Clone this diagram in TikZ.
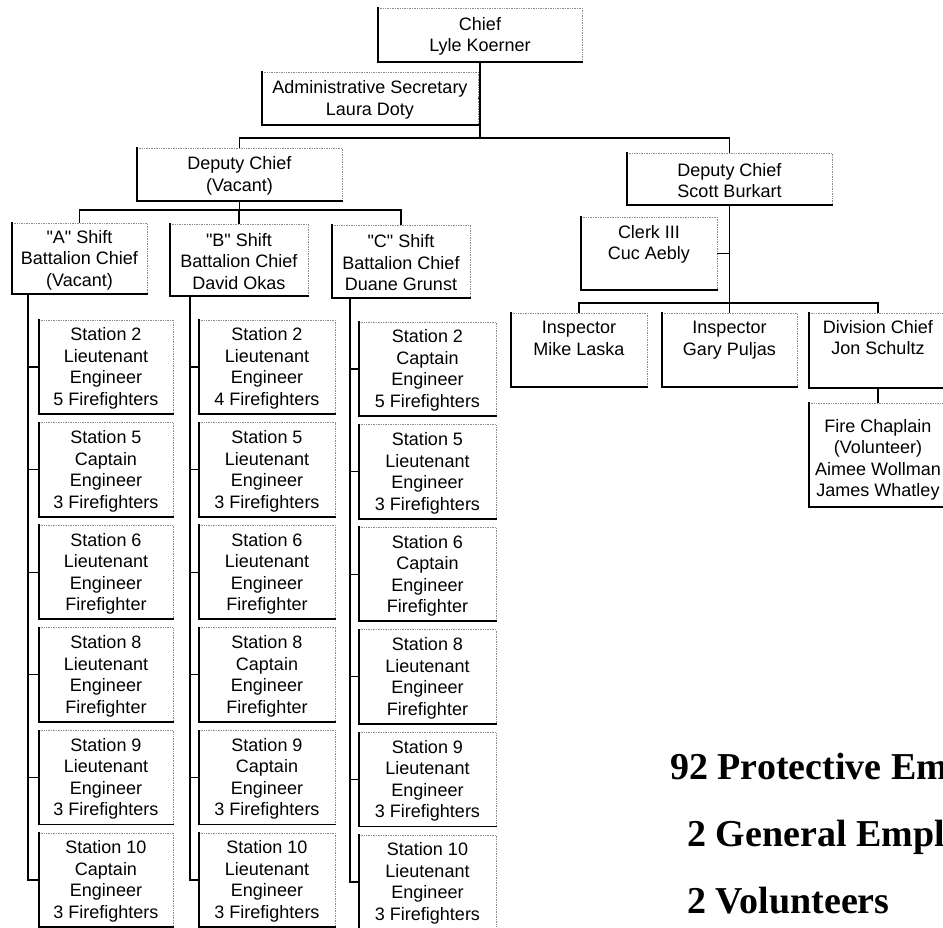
\documentclass[tikz,border=0pt]{standalone}
\usepackage{fontspec}
\setmainfont{Liberation Sans}[Ligatures=TeXOff]
\newfontfamily\bigserif{Liberation Serif}
\usetikzlibrary{fit}
\tikzset{
  boxshape/.style={inner sep=0pt, outer sep=0pt},
  txt/.style={inner sep=0pt, align=center, font=\fontsize{18}{21.5}\selectfont},
  hardedge/.style={line width=1.8pt, black, line cap=rect},
  softedge/.style={line width=0.7pt, black!45, densely dotted},
  conn/.style={line width=1.3pt, black},
  bigtxt/.style={inner sep=0pt, anchor=base west, font=\bigserif\bfseries\fontsize{38}{44}\selectfont}
}
% name, x1, y1, x2, y2, text (centred)
\newcommand\orgbox[6]{%
  \node[boxshape, fit={(#2,#3) (#4,#5)}] (#1) {};
  \node[txt, yshift=-1.5pt] (#1-t) at (#1.center) {#6};
  \draw[softedge] (#1.north west) -- (#1.north east) -- (#1.south east);
  \draw[hardedge] (#1.north west) -- (#1.south west) -- (#1.south east);
}
% name, x1, y1, x2, y2, y of text top, text (top aligned)
\newcommand\topbox[7]{%
  \node[boxshape, fit={(#2,#3) (#4,#5)}] (#1) {};
  \node[txt, anchor=north] (#1-t) at ({(#2+#4)/2},#6) {#7};
  \draw[softedge] (#1.north west) -- (#1.north east) -- (#1.south east);
  \draw[hardedge] (#1.north west) -- (#1.south west) -- (#1.south east);
}
\begin{document}
\begin{tikzpicture}[x=1pt, y=-1pt]
\useasboundingbox (0,0) rectangle (943,928);
\fill[white] (0,0) rectangle (943,928);
\clip (0,0) rectangle (943,928);

% top levels
\orgbox{chief}{378}{8}{582}{62}{Chief\\Lyle Koerner}
\orgbox{admin}{262}{72}{478}{125}{Administrative Secretary\\Laura Doty}
\orgbox{dcv}{137}{148}{342}{201}{Deputy Chief\\(Vacant)}
\orgbox{dcs}{627}{153}{832}{205}{Deputy Chief\\Scott Burkart}

% shifts
\orgbox{sa}{12}{223}{147}{294}{"A" Shift\\Battalion Chief\\(Vacant)}
\orgbox{sb}{170}{224}{308}{296}{"B" Shift\\Battalion Chief\\David Okas}
\orgbox{sc}{332}{225}{470}{298}{"C" Shift\\Battalion Chief\\Duane Grunst}

% right branch
\topbox{clerk}{581}{217}{717}{290}{225}{Clerk III\\Cuc Aebly}
\topbox{mike}{511}{313}{647}{387}{321}{Inspector\\Mike Laska}
\topbox{gary}{662}{313}{797}{387}{321}{Inspector\\Gary Puljas}
\topbox{div}{809}{313}{947}{388}{320}{Division Chief\\Jon Schultz}
\topbox{fc}{809}{403}{947}{507}{419}{Fire Chaplain\\(Volunteer)\\Aimee Wollman\\James Whatley}

% column A
\orgbox{a2}{39}{320}{173}{320+94}{Station 2\\Lieutenant\\Engineer\\5 Firefighters}
\orgbox{a5}{39}{422.6}{173}{422.6+94}{Station 5\\Captain\\Engineer\\3 Firefighters}
\orgbox{a6}{39}{525.2}{173}{525.2+94}{Station 6\\Lieutenant\\Engineer\\Firefighter}
\orgbox{a8}{39}{627.8}{173}{627.8+94}{Station 8\\Lieutenant\\Engineer\\Firefighter}
\orgbox{a9}{39}{730.4}{173}{730.4+94}{Station 9\\Lieutenant\\Engineer\\3 Firefighters}
\orgbox{a10}{39}{833}{173}{833+94}{Station 10\\Captain\\Engineer\\3 Firefighters}

% column B
\orgbox{b2}{199}{320}{335}{320+94}{Station 2\\Lieutenant\\Engineer\\4 Firefighters}
\orgbox{b5}{199}{422.6}{335}{422.6+94}{Station 5\\Lieutenant\\Engineer\\3 Firefighters}
\orgbox{b6}{199}{525.2}{335}{525.2+94}{Station 6\\Lieutenant\\Engineer\\Firefighter}
\orgbox{b8}{199}{627.8}{335}{627.8+94}{Station 8\\Captain\\Engineer\\Firefighter}
\orgbox{b9}{199}{730.4}{335}{730.4+94}{Station 9\\Captain\\Engineer\\3 Firefighters}
\orgbox{b10}{199}{833}{335}{833+94}{Station 10\\Lieutenant\\Engineer\\3 Firefighters}

% column C
\orgbox{c2}{359}{322}{496}{322+94}{Station 2\\Captain\\Engineer\\5 Firefighters}
\orgbox{c5}{359}{424.6}{496}{424.6+94}{Station 5\\Lieutenant\\Engineer\\3 Firefighters}
\orgbox{c6}{359}{527.2}{496}{527.2+94}{Station 6\\Captain\\Engineer\\Firefighter}
\orgbox{c8}{359}{629.8}{496}{629.8+94}{Station 8\\Lieutenant\\Engineer\\Firefighter}
\orgbox{c9}{359}{732.4}{496}{732.4+94}{Station 9\\Lieutenant\\Engineer\\3 Firefighters}
\orgbox{c10}{359}{835}{496}{835+94}{Station 10\\Lieutenant\\Engineer\\3 Firefighters}

% connectors: top
\coordinate (bus1) at (0,138);
\draw[conn] (chief.south) -- (chief.south |- bus1) -| (dcv.north);
\draw[conn] (chief.south |- bus1) -| (dcs.north);
\draw[conn] (admin.east) -- (admin.east -| chief.south);

% deputy (vacant) to shifts
\coordinate (bus2) at (0,210);
\draw[conn] (dcv.south) -- (dcv.south |- bus2) -| (sa.north);
\draw[conn] (dcv.south |- bus2) -| (sb.north);
\draw[conn] (dcv.south |- bus2) -| (sc.north);

% shift spines
\coordinate (spA) at (28,0);
\coordinate (spB) at (190,0);
\coordinate (spC) at (350,0);
\draw[conn] (sa.south -| spA) -- (a10.west -| spA) -- (a10.west);
\foreach \n in {a2,a5,a6,a8,a9} \draw[conn] (\n.west -| spA) -- (\n.west);
\draw[conn] (sb.south -| spB) -- (b10.west -| spB) -- (b10.west);
\foreach \n in {b2,b5,b6,b8,b9} \draw[conn] (\n.west -| spB) -- (\n.west);
\draw[conn] (sc.south -| spC) -- (c10.west -| spC) -- (c10.west);
\foreach \n in {c2,c5,c6,c8,c9} \draw[conn] (\n.west -| spC) -- (\n.west);

% deputy (Burkart) branch
\coordinate (bus3) at (0,303);
\draw[conn] (dcs.south) -- (dcs.south |- bus3) -| (mike.north);
\draw[conn] (dcs.south |- bus3) -| (div.north);
\draw[conn] (dcs.south |- bus3) -- (gary.north);
\draw[conn] (clerk.east) -- (clerk.east -| dcs.south);
\draw[conn] (div.south) -- (fc.north);

% totals
\node[bigtxt] (t1) at (670,779) {92 Protective Employees};
\node[bigtxt] (t2) at (687,846) {2 General Employees};
\node[bigtxt] (t3) at (687,913) {2 Volunteers};
\end{tikzpicture}
\end{document}
